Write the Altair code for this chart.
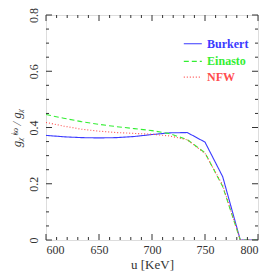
import altair as alt
import pandas as pd

u = [600, 616.7, 633.3, 650, 666.7, 683.3, 700, 716.7, 733.3, 750, 766.7, 783.3, 800]
burkert = [0.372, 0.367, 0.364, 0.363, 0.364, 0.368, 0.375, 0.381, 0.382, 0.348, 0.225, 0.0, 0.0]
einasto = [0.446, 0.433, 0.421, 0.411, 0.403, 0.396, 0.389, 0.378, 0.357, 0.310, 0.190, 0.0, 0.0]
nfw = [0.418, 0.405, 0.394, 0.387, 0.382, 0.379, 0.376, 0.370, 0.356, 0.308, 0.195, 0.0, 0.0]

models = ["Burkert", "Einasto", "NFW"]
colors = ["#3a3aff", "#33ee33", "#ff4d4d"]
dashes = [[1, 0], [5, 3], [1, 2]]

x_major = [600, 650, 700, 750, 800]
x_minor = [610, 620, 630, 640, 660, 670, 680, 690, 710, 720, 730, 740, 760, 770, 780, 790]
y_major = [0, 0.2, 0.4, 0.6, 0.8]
y_minor = [0.05, 0.1, 0.15, 0.25, 0.3, 0.35, 0.45, 0.5, 0.55, 0.65, 0.7, 0.75]

leg_y = [0.698, 0.635, 0.579]
leg_x0, leg_x1, leg_xt = 730, 747, 752

W, H = 212, 225
FONT = "Liberation Serif"

rows = []
for name, vals in zip(models, [burkert, einasto, nfw]):
    for x, y in zip(u, vals):
        rows.append({"u": x, "g": y, "model": name})
df = pd.DataFrame(rows)

xs = alt.Scale(domain=[600, 800], nice=False, zero=False)
ys = alt.Scale(domain=[0, 0.8], nice=False)
cs = alt.Scale(domain=models, range=colors)
ds = alt.Scale(domain=models, range=dashes)

XAX = alt.Axis(values=x_major, ticks=False, title="u  [KeV]", format="d",
               labelFontSize=12, titleFontSize=13, labelFont=FONT, titleFont=FONT,
               labelColor="#333", titleColor="#333", titleFontWeight="normal",
               labelPadding=4, titlePadding=3, domain=False, grid=False)
YAX = alt.Axis(values=y_major, ticks=False, title="gᵪⁱˢᵒ / gᵪ",
               labelFontSize=12, titleFontSize=13, labelFont=FONT, titleFont=FONT,
               labelColor="#333", titleColor="#333", titleFontWeight="normal",
               titleFontStyle="italic",
               labelAngle=270, labelAlign="center", labelBaseline="bottom",
               labelPadding=6, titlePadding=4, domain=False, grid=False,
               labelExpr="datum.value == 0 ? '0' : format(datum.value, '.1f')")

lines = alt.Chart(df).mark_line(strokeWidth=1.1, clip=True).encode(
    x=alt.X("u:Q", scale=xs, axis=XAX),
    y=alt.Y("g:Q", scale=ys, axis=YAX),
    color=alt.Color("model:N", scale=cs, legend=None),
    strokeDash=alt.StrokeDash("model:N", scale=ds, legend=None),
    detail="model:N",
)

def xticks(vals, length):
    d = pd.DataFrame({"v": vals})
    b = alt.Chart(d).mark_rule(color="#333", strokeWidth=1).encode(
        x=alt.X("v:Q", scale=xs, axis=XAX), y=alt.value(H), y2=alt.value(H - length))
    t = alt.Chart(d).mark_rule(color="#333", strokeWidth=1).encode(
        x=alt.X("v:Q", scale=xs, axis=XAX), y=alt.value(0), y2=alt.value(length))
    return b + t

def yticks(vals, length):
    d = pd.DataFrame({"v": vals})
    l = alt.Chart(d).mark_rule(color="#333", strokeWidth=1).encode(
        y=alt.Y("v:Q", scale=ys, axis=YAX), x=alt.value(0), x2=alt.value(length))
    r = alt.Chart(d).mark_rule(color="#333", strokeWidth=1).encode(
        y=alt.Y("v:Q", scale=ys, axis=YAX), x=alt.value(W), x2=alt.value(W - length))
    return l + r

leg = pd.DataFrame({"model": models, "y": leg_y, "x0": [leg_x0] * 3,
                    "x1": [leg_x1] * 3, "xt": [leg_xt] * 3})
leg_lines = alt.Chart(leg).mark_rule(strokeWidth=1.1).encode(
    x=alt.X("x0:Q", scale=xs, axis=XAX), x2="x1:Q",
    y=alt.Y("y:Q", scale=ys, axis=YAX),
    color=alt.Color("model:N", scale=cs, legend=None),
    strokeDash=alt.StrokeDash("model:N", scale=ds, legend=None),
)
leg_text = alt.Chart(leg).mark_text(align="left", baseline="middle", font=FONT,
                                    fontSize=12, fontWeight="bold").encode(
    x=alt.X("xt:Q", scale=xs, axis=XAX),
    y=alt.Y("y:Q", scale=ys, axis=YAX),
    text="model:N",
    color=alt.Color("model:N", scale=cs, legend=None),
)

chart = alt.layer(
    lines,
    xticks(x_major, 6), xticks(x_minor, 3),
    yticks(y_major, 6), yticks(y_minor, 3),
    leg_lines, leg_text,
).properties(
    width=W, height=H,
    autosize=alt.AutoSizeParams(type="none"),
    padding={"left": 38, "top": 7, "right": 7, "bottom": 32},
).configure_view(stroke="#333", strokeWidth=1).configure(background="white")

chart.save("out.html", embed_options={"renderer": "svg", "actions": False})
